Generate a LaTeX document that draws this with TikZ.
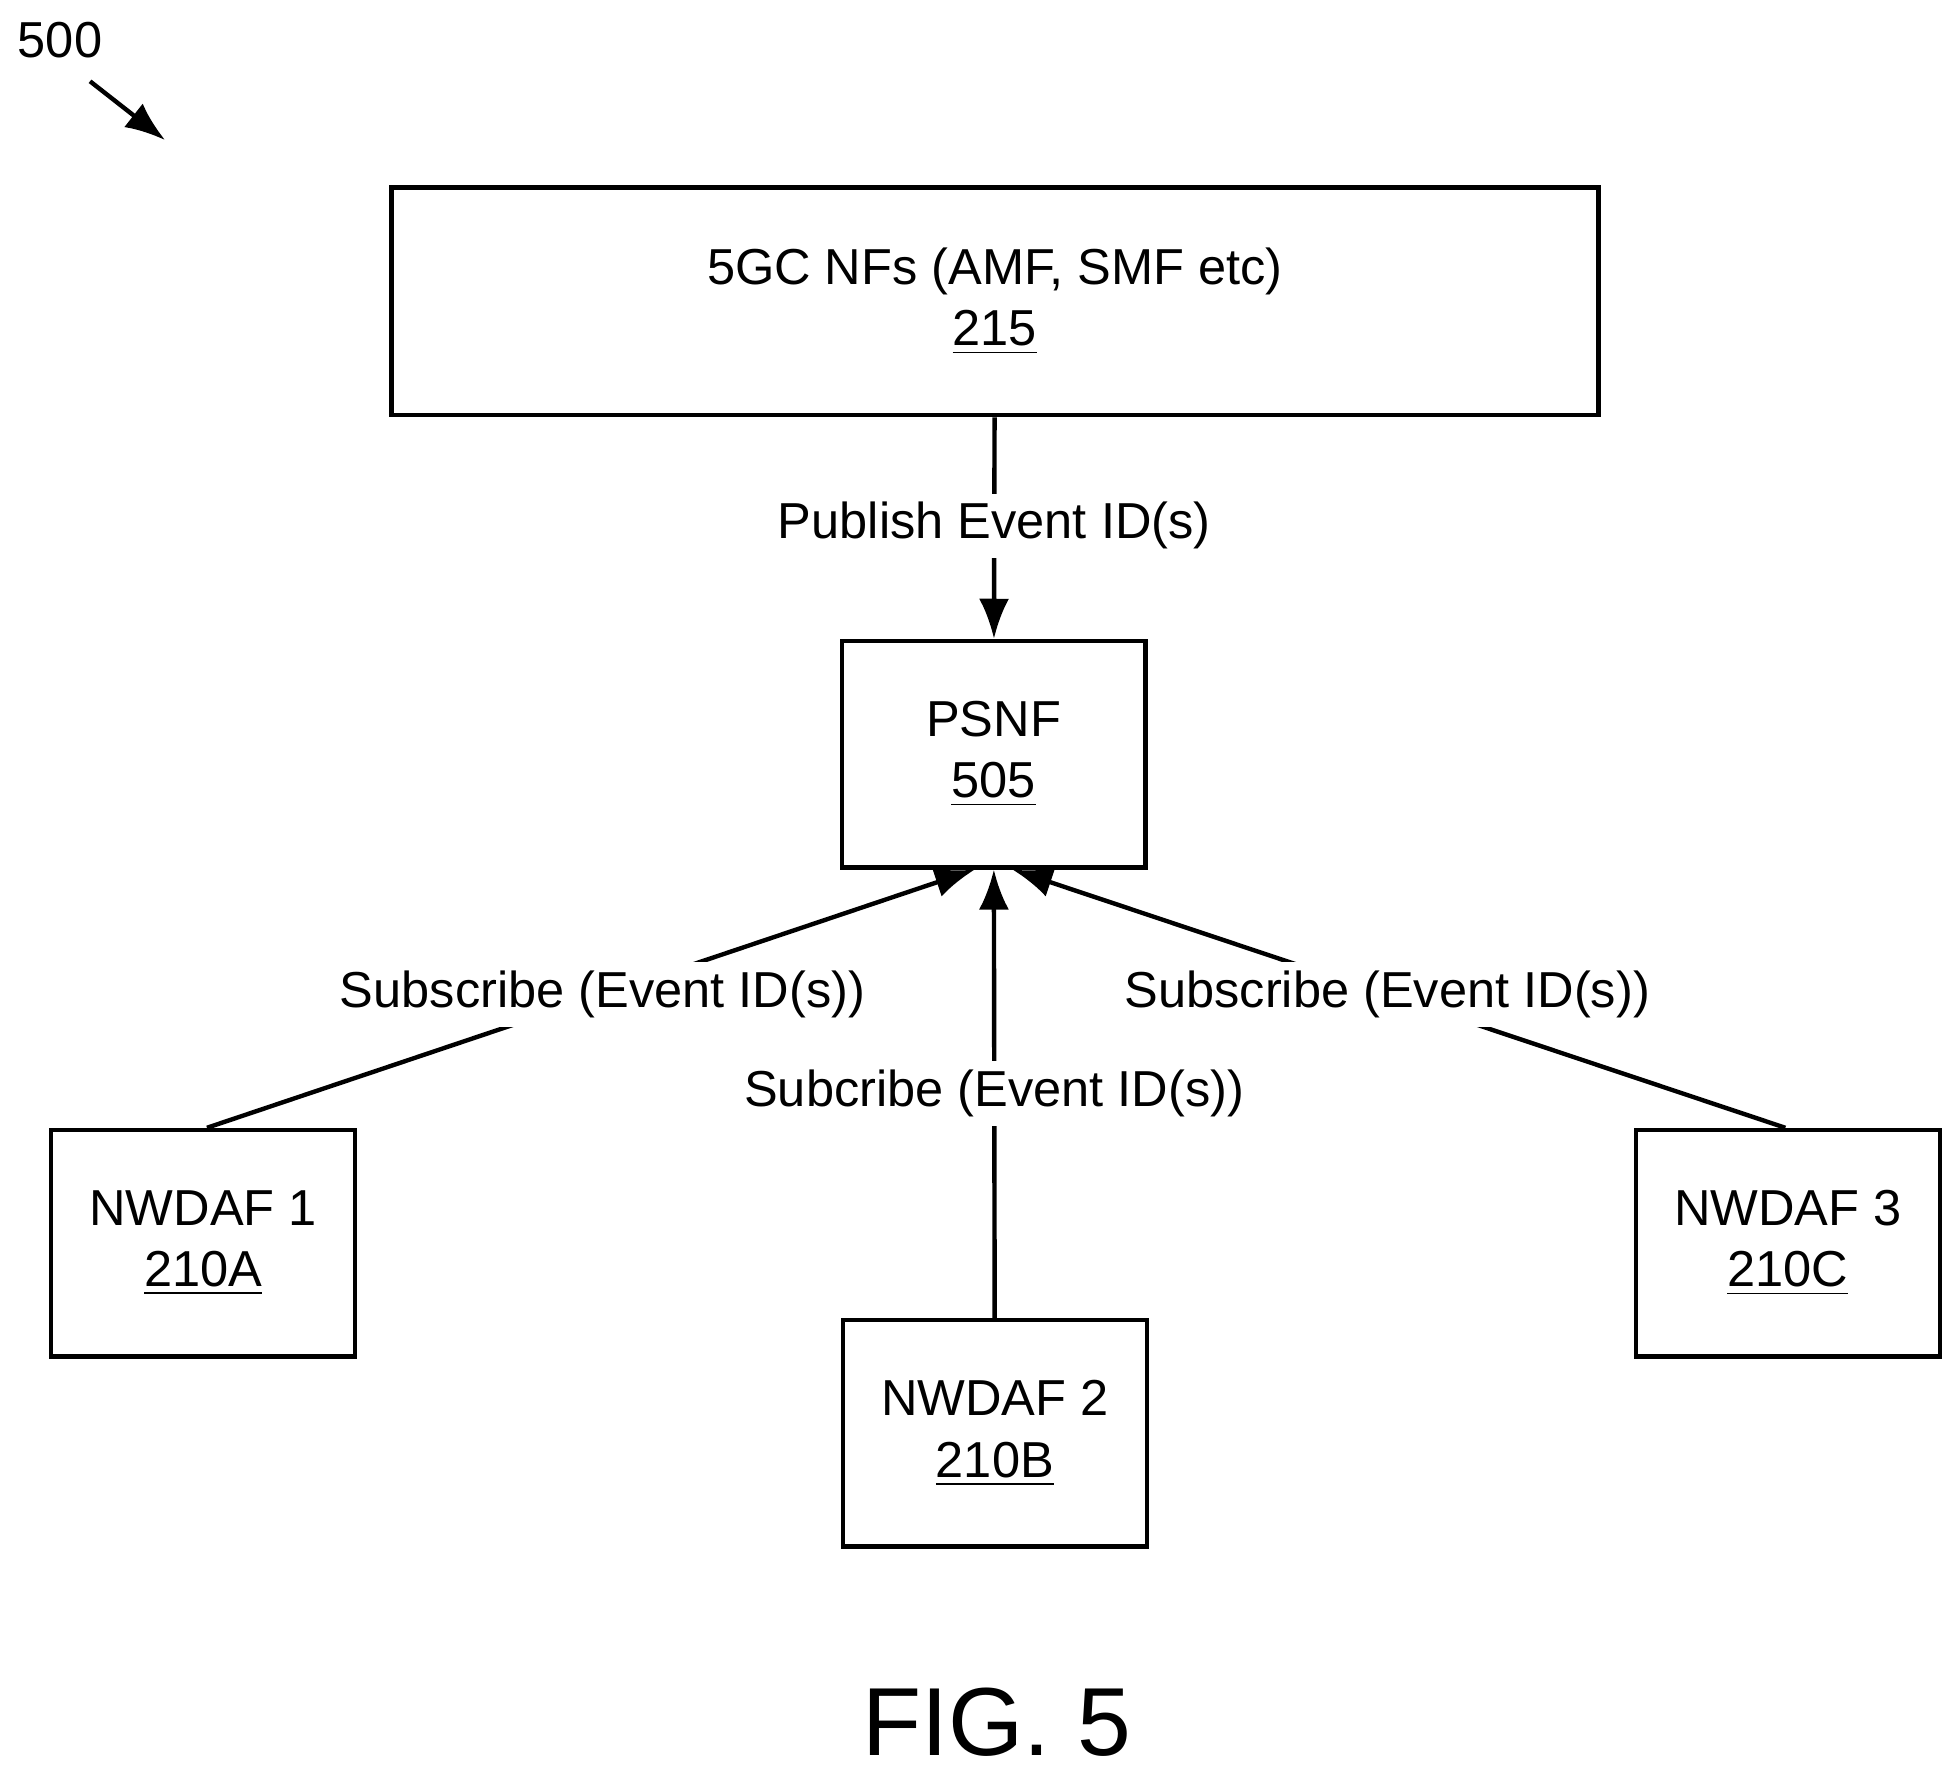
\documentclass[tikz,border=0pt]{standalone}
\usepackage{fontspec}
\setmainfont{Liberation Sans}
\usetikzlibrary{arrows.meta,positioning,calc}

\begin{document}
\begin{tikzpicture}[
    font=\fontsize{11.5}{14}\selectfont,
    line width=1pt,
    >={Latex[length=3.2mm, width=2.4mm]},
    % --- styles ---
    nf box/.style={
        draw=black,
        fill=white,
        minimum width=2.43cm,
        minimum height=1.81cm,
        align=center,
        inner sep=3pt
    },
    msg label/.style={
        fill=white,
        inner sep=2pt
    }
]
    \useasboundingbox (0,0) rectangle (15.6,14.22);

    % ====== figure number ======
    \node (fig num) at (0.48,13.9) {500};
    \coordinate (fig tip) at (1.32,13.1);
    \draw[->] (0.72,13.57) -- (fig tip);

    % ====== boxes ======
    \node[nf box, minimum width=9.65cm, minimum height=1.82cm] (core nfs) at (7.955,11.81) {5GC NFs (AMF, SMF etc)\\\underline{215}};
    \node[nf box] (psnf) at (7.945,8.19) {PSNF\\\underline{505}};
    \node[nf box] (nwdaf a) at (1.625,4.28) {NWDAF 1\\\underline{210A}};
    \node[nf box] (nwdaf b) at (7.955,2.76) {NWDAF 2\\\underline{210B}};
    \node[nf box] (nwdaf c) at (14.295,4.28) {NWDAF 3\\\underline{210C}};

    % ====== connectors ======
    \draw[->] (core nfs) -- node[msg label, pos=0.49] {Publish Event ID(s)} (psnf);
    \draw[->] ($(nwdaf a.north)+(0.03,0)$) -- node[msg label, pos=0.515] {Subscribe (Event ID(s))} ($(psnf.south)+(-0.15,0)$);
    \draw[->] (nwdaf b) -- node[msg label, pos=0.5] {Subcribe (Event ID(s))} (psnf);
    \draw[->] ($(nwdaf c.north)+(-0.02,0)$) -- node[msg label, pos=0.515] {Subscribe (Event ID(s))} ($(psnf.south)+(0.15,0)$);

    % ====== caption ======
    \node[font=\fontsize{22}{26}\selectfont] (caption) at (7.97,0.45) {FIG. 5};
\end{tikzpicture}
\end{document}
